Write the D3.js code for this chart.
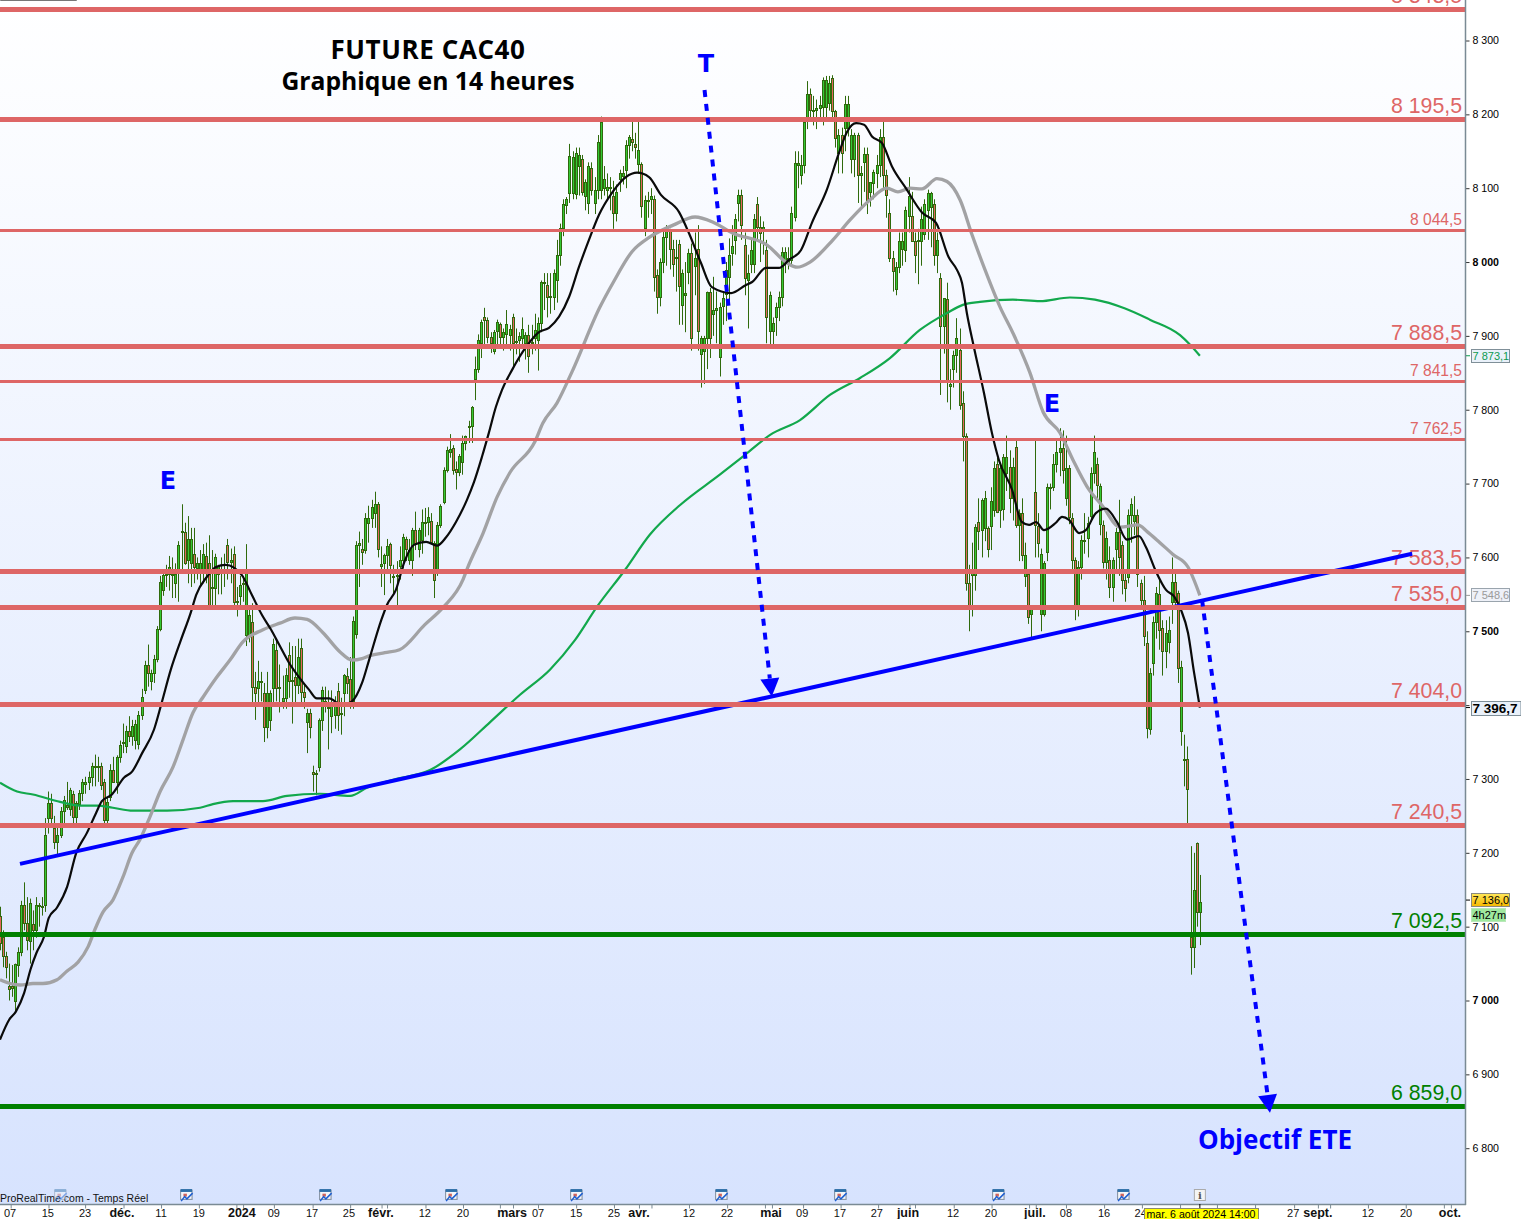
<!DOCTYPE html>
<html><head><meta charset="utf-8"><title>FUTURE CAC40</title>
<script src="https://cdnjs.cloudflare.com/ajax/libs/d3/7.8.5/d3.min.js"></script>
<style>html,body{margin:0;padding:0;background:#fff;overflow:hidden}svg{display:block}</style></head>
<body><div id="chart"></div>
<script>
// open, high, low, close
const candles1=[[7114,7127,7068,7078],[7086,7095,7045,7060],[7060,7066,7030,7046],[7019,7050,7000,7016],[7020,7048,7005,7017],[7000,7050,6985,7050],[7048,7072,7032,7066],[7066,7135,7060,7129],[7129,7160,7095,7105],[7105,7140,7068,7082],[7080,7138,7050,7132],[7103,7122,7068,7095],[7095,7140,7085,7129],[7128,7132,7100,7129],[7128,7140,7115,7128],[7129,7247,7120,7224],[7247,7283,7226,7267],[7267,7280,7240,7247],[7233,7250,7205,7215],[7215,7240,7198,7224],[7224,7262,7220,7256],[7256,7277,7240,7272],[7262,7296,7258,7265],[7260,7288,7250,7285],[7280,7284,7240,7249],[7249,7270,7240,7267],[7266,7285,7258,7281],[7281,7300,7270,7296],[7293,7303,7280,7296],[7296,7310,7285,7303],[7303,7322,7290,7317],[7317,7333,7290,7318],[7318,7330,7296,7317],[7317,7322,7285,7292],[7296,7300,7240,7244],[7244,7275,7240,7269],[7276,7320,7270,7312],[7312,7330,7295,7296],[7296,7332,7280,7330],[7330,7352,7322,7346],[7350,7375,7335,7350]];
const candles2=[[7345,7372,7335,7365],[7365,7385,7350,7358],[7358,7380,7345,7372],[7353,7380,7340,7375],[7348,7392,7340,7387],[7387,7422,7380,7411],[7420,7460,7415,7454],[7454,7482,7425,7444],[7432,7448,7420,7443],[7443,7468,7430,7462],[7463,7507,7458,7503],[7503,7575,7500,7567],[7556,7582,7548,7576],[7576,7590,7560,7577],[7578,7602,7555,7587],[7578,7600,7545,7578],[7565,7592,7545,7578],[7580,7622,7540,7617],[7634,7672,7580,7636],[7635,7647,7590,7592],[7596,7656,7565,7625],[7593,7640,7560,7625],[7604,7640,7565,7587],[7586,7600,7570,7592],[7585,7610,7560,7592],[7585,7618,7565,7605],[7602,7620,7565,7583],[7593,7630,7530,7535],[7558,7610,7530,7560],[7558,7605,7535,7600],[7578,7590,7550,7588],[7580,7600,7550,7584],[7580,7605,7560,7584],[7617,7625,7570,7594],[7594,7612,7565,7596],[7605,7615,7530,7540],[7540,7560,7520,7541],[7548,7575,7530,7562],[7565,7575,7540,7564],[7495,7618,7480,7583]];
const candles3=[[7495,7535,7485,7522],[7513,7538,7403,7425],[7425,7445,7380,7416],[7423,7460,7400,7432],[7432,7445,7405,7433],[7416,7430,7350,7370],[7370,7445,7355,7416],[7380,7420,7365,7416],[7423,7490,7400,7483],[7475,7490,7405,7423],[7423,7455,7390,7424],[7405,7440,7395,7410],[7409,7450,7395,7441],[7468,7485,7410,7433],[7433,7480,7375,7434],[7438,7480,7400,7427],[7427,7490,7415,7465],[7478,7490,7400,7418],[7418,7430,7395,7411],[7377,7395,7335,7390],[7390,7395,7355,7371],[7310,7318,7283,7307],[7308,7312,7278,7307],[7316,7382,7310,7380],[7380,7425,7365,7420],[7402,7425,7390,7405],[7398,7420,7340,7398],[7385,7420,7362,7402],[7386,7412,7368,7402],[7419,7430,7365,7387],[7389,7410,7360,7390],[7417,7442,7385,7441],[7440,7450,7415,7430],[7435,7465,7395,7402],[7405,7520,7395,7514],[7496,7622,7490,7617],[7617,7635,7560,7620],[7612,7625,7590,7608],[7610,7660,7605,7654],[7646,7670,7620,7654]];
const candles4=[[7654,7678,7640,7668],[7660,7689,7640,7673],[7673,7675,7600,7612],[7588,7615,7560,7591],[7592,7605,7549,7603],[7603,7625,7580,7616],[7618,7620,7565,7590],[7575,7590,7550,7574],[7575,7595,7535,7576],[7588,7615,7570,7596],[7597,7632,7585,7628],[7625,7628,7595,7612],[7597,7625,7590,7610],[7597,7640,7575,7637],[7637,7662,7610,7619],[7612,7640,7600,7637],[7624,7665,7605,7648],[7647,7667,7628,7648],[7648,7668,7630,7655],[7650,7660,7618,7621],[7620,7622,7545,7570],[7585,7648,7575,7644],[7644,7672,7640,7670],[7675,7722,7672,7719],[7719,7750,7715,7745],[7743,7767,7735,7747],[7748,7752,7712,7718],[7720,7730,7692,7716],[7716,7740,7710,7737],[7729,7765,7712,7755],[7755,7765,7745,7764],[7776,7785,7755,7778],[7778,7805,7755,7804],[7842,7872,7813,7855],[7855,7902,7850,7894],[7890,7922,7870,7919],[7926,7938,7885,7922],[7922,7925,7890,7898],[7898,7905,7877,7890],[7879,7908,7875,7905],[7906,7922,7885,7919],[7916,7918,7885,7898],[7898,7910,7880,7905],[7902,7935,7885,7916],[7901,7915,7880,7910],[7925,7930,7855,7890],[7892,7910,7875,7893],[7895,7905,7865,7900],[7897,7925,7885,7910],[7890,7905,7868,7901],[7901,7915,7850,7873],[7890,7915,7875,7892],[7897,7930,7880,7908],[7894,7925,7853,7917],[7917,7975,7905,7973]];
const candles5=[[7972,7985,7935,7973],[7969,7985,7925,7952],[7952,7985,7930,7954],[7953,7990,7935,7985],[7976,8030,7945,8010],[8010,8052,7995,8046],[8046,8085,8035,8079],[8077,8088,8065,8086],[8093,8160,8080,8143],[8093,8150,8085,8142],[8092,8155,8085,8147],[8130,8155,8090,8145],[8139,8145,8090,8095],[8089,8112,8070,8108],[8080,8135,8065,8130],[8128,8135,8090,8098],[8080,8115,8065,8098],[8098,8172,8085,8162],[8098,8197,8085,8190],[8100,8130,8090,8113],[8098,8120,8085,8102],[8100,8115,8070,8101],[8089,8110,8045,8066],[8066,8105,8055,8095],[8113,8125,8095,8120],[8117,8130,8105,8120],[8125,8165,8100,8158],[8158,8172,8140,8169],[8166,8190,8150,8162],[8160,8175,8140,8156],[8133,8190,8120,8152],[8133,8135,8060,8076],[8046,8090,8035,8084],[8082,8095,8060,8084],[8085,8100,8065,8090],[8086,8090,7960,7980],[7982,7990,7930,7952],[7952,8005,7940,8000],[8000,8045,7985,8034],[8034,8050,7995,8043],[8043,8045,7990,8018],[8018,8030,7980,7998],[8005,8030,7960,8007],[8025,8030,7915,7967],[7942,7990,7915,7985],[7955,8000,7905,7958],[7987,8018,7970,8012],[8012,8025,7880,7897],[7995,8040,7955,8005],[8018,8050,7880,7906],[7876,7900,7830,7897],[7879,7900,7835,7897],[7897,7960,7855,7959],[7959,7965,7870,7897],[7930,7980,7900,7935],[7935,7960,7890,7938],[7872,7945,7845,7939]];
const candles6=[[7940,7960,7915,7951],[7957,8000,7920,7989],[7980,8032,7945,8010],[8012,8050,7995,8022],[8030,8065,8010,8058],[8080,8098,8055,8091],[8091,8098,8030,8050],[8023,8040,7955,7978],[7976,8010,7910,7985],[7998,8030,7985,8016],[7998,8065,7985,8058],[8079,8088,8030,8048],[8048,8062,8000,8040],[8045,8055,8010,8047],[8016,8030,7890,7926],[7906,7960,7888,7956],[7906,7925,7888,7917],[7926,7945,7900,7939],[7939,7960,7920,7953],[7953,8020,7940,8013],[8003,8020,7985,8013],[8000,8020,7990,8005],[8003,8075,7995,8067],[8061,8150,8055,8134],[8132,8150,8100,8134],[8118,8145,8105,8131],[8131,8195,8120,8190],[8197,8245,8180,8228],[8228,8235,8190,8206],[8204,8225,8185,8206],[8206,8220,8180,8208],[8208,8225,8192,8212],[8210,8250,8185,8246],[8210,8252,8195,8246],[8215,8252,8205,8242],[8249,8253,8195,8204],[8204,8206,8155,8168],[8148,8180,8120,8172],[8172,8182,8120,8148],[8181,8225,8150,8214],[8181,8225,8170,8214],[8139,8180,8120,8172],[8139,8175,8115,8172],[8172,8175,8080,8118],[8118,8130,8075,8120],[8135,8155,8095,8146],[8146,8155,8065,8084],[8095,8105,8075,8108],[8107,8125,8085,8122],[8120,8145,8100,8131],[8131,8180,8115,8169],[8169,8190,8100,8118],[8118,8125,8060,8091]];
const candles7=[[8067,8085,8000,8006],[8006,8015,7960,7988],[7963,8000,7955,7993],[7993,8040,7985,8028],[8018,8040,7995,8028],[8016,8075,8000,8070],[8063,8115,8040,8090],[8063,8095,8028,8028],[8028,8040,7985,8010],[8028,8045,7970,8030],[8028,8075,7995,8058],[8038,8085,8030,8078],[8070,8098,8030,8093],[8075,8095,8020,8093],[8079,8085,7995,8010],[8010,8040,7985,8030],[7979,7985,7820,7913],[7913,7951,7876,7951],[7950,7972,7810,7840],[7832,7855,7800,7835],[7855,7880,7830,7874],[7874,7924,7850,7897],[7881,7910,7800,7807],[7809,7825,7730,7764],[7764,7768,7555,7566],[7566,7590,7500,7536],[7576,7620,7520,7580],[7576,7645,7555,7641],[7648,7680,7610,7636],[7637,7680,7600,7678],[7640,7690,7622,7680],[7640,7642,7600,7612],[7642,7695,7610,7676],[7664,7730,7655,7721],[7727,7735,7660,7662],[7664,7725,7640,7721],[7666,7740,7650,7736],[7714,7765,7690,7736],[7723,7745,7660,7680],[7680,7735,7650,7723],[7750,7758,7640,7644],[7644,7665,7595,7660],[7660,7680,7595,7603],[7575,7620,7560,7603],[7578,7580,7510,7520],[7523,7535,7490,7530],[7688,7758,7600,7644],[7642,7660,7600,7619],[7523,7612,7500,7605],[7523,7595,7520,7592],[7608,7700,7595,7695],[7694,7700,7665,7696],[7696,7740,7690,7727],[7727,7760,7715,7743],[7743,7775,7710,7748]];
const candles8=[[7748,7772,7700,7718],[7680,7765,7670,7721],[7721,7725,7645,7655],[7653,7660,7580,7596],[7596,7600,7515,7535],[7535,7595,7520,7587],[7587,7630,7570,7623],[7622,7660,7605,7624],[7626,7655,7600,7647],[7656,7722,7650,7714],[7714,7765,7700,7743],[7726,7735,7680,7698],[7645,7700,7630,7697],[7644,7650,7585,7594],[7594,7635,7570,7626],[7596,7615,7545,7560],[7560,7600,7540,7596],[7612,7640,7580,7635],[7635,7678,7575,7601],[7617,7622,7550,7569],[7570,7580,7540,7558],[7574,7665,7565,7657],[7657,7680,7620,7672],[7650,7683,7630,7658],[7657,7665,7560,7578],[7565,7570,7530,7542],[7542,7575,7480,7494],[7484,7500,7355,7369],[7367,7450,7360,7444],[7457,7520,7440,7512],[7512,7560,7490,7552],[7551,7570,7475,7502],[7504,7515,7440,7473],[7473,7515,7450,7497],[7485,7520,7470,7502],[7540,7600,7510,7567],[7567,7580,7530,7540],[7552,7555,7430,7450],[7365,7460,7345,7452],[7327,7360,7290,7327],[7327,7344,7240,7287],[7086,7209,7035,7072],[7072,7200,7044,7150],[7213,7214,7100,7120],[7120,7170,7075,7133]];
// where some candles sit on the bar axis
const anchorCandles=[0,15,51,116,154,194,268,310,385];
const anchorBars=[0.1,14.75,51.5,116.7,155.7,197,272.8,316.7,393.4];

// moving averages: bar number, value
const blackBars=[0,3,5.2,7.9,10,12,14.4,16,18.7,22,25,28.5,31.5,33.4,36.7,40.7,43.3,46.6,50.5,53,56,59.3,62.6,64.3,67.9,70.8,74,79.3,82.6,85.9,88.9,91.5,94.8,98,101.3,103.9,107.9,112.1,115.4,118.7,121,125,126.9,129.8,132.5,135.7,139.7,143.3,146.2,149.5,153.1,155.4,158,160.3,162.6,164.6,167.9,172.5,176.7,180,183.3,186.6,189.8,193.1,196.4,200.7,205.2,208.9,212.8,216.7,222.6,225.9,229.8,233.4,239.7,244.6,246.6,251.1,255.4,258.7,262.6,266.2,271.1,275.1,277.7,280.7,283.3,285.9,289.2,292.5,297,302.3,306.9,311.1,313.8,315.4,317,319.3,322.6,325.2,327.5,331.8,335,337.4,339.7,342.3,346.2,348.2,350.5,353.8,356,359.3,362.6,366.2,369.5,373.4,375.7,379,382.3,385,387.2,389.5,391.5,393.4];
const blackVals=[6947,6974,6985,7010,7042,7065,7086,7112,7126,7154,7200,7227,7254,7270,7279,7302,7310,7335,7367,7403,7448,7488,7526,7549,7574,7587,7590,7576,7549,7522,7502,7482,7457,7438,7421,7409,7409,7400,7405,7430,7461,7515,7536,7556,7593,7617,7621,7616,7627,7648,7678,7702,7736,7769,7804,7827,7854,7885,7905,7911,7926,7953,7993,8030,8064,8094,8115,8121,8115,8091,8068,8039,7999,7966,7958,7969,7973,7992,7992,8003,8016,8053,8098,8148,8176,8188,8186,8170,8161,8129,8100,8067,8053,8006,7989,7972,7931,7885,7823,7769,7732,7692,7648,7644,7648,7637,7647,7655,7651,7633,7637,7660,7666,7648,7624,7629,7614,7581,7556,7547,7529,7498,7444,7396.7];
const grayBars=[0,3.3,6.6,10.8,14.1,18.7,22,25.6,28.9,31.1,33.8,37,40.3,43.3,45.9,49.2,52.5,56.7,60,63.3,66.6,71.1,75.4,79.7,86.2,91.8,96.7,100.7,105.9,111.5,115.4,118.7,121.3,126.2,131,139.3,145.2,151.8,153.4,158.4,163,167.2,175.4,178,182.6,187.5,196.7,201,207.2,213.1,220.7,227.9,233.8,240.3,251.5,258,261.3,265.6,273.1,278.7,285.2,290.8,294.4,298.4,302.3,307.2,310.5,314.8,318.7,323,327.9,332.1,337.7,342,347.5,351.8,356.4,361.6,367.2,373.1,376.1,380.3,384.6,389.5,393.4];
const grayVals=[7028,7023,7021,7023,7023,7028,7040,7052,7073,7096,7120,7136,7167,7200,7218,7249,7283,7316,7353,7390,7411,7438,7461,7486,7502,7511,7518,7516,7498,7472,7461,7463,7467,7471,7475,7509,7532,7570,7587,7633,7682,7715,7757,7782,7809,7851,7939,7972,8014,8034,8050,8061,8054,8039,8023,7999,7993,8000,8030,8057,8084,8100,8095,8100,8099,8113,8109,8084,8037,7989,7939,7904,7850,7797,7769,7732,7696,7669,7641,7644,7635,7620,7604,7587,7548.6];
const greenBars=[0,5.6,10.8,19.7,26.2,31.8,37,43.6,54.8,65.6,69.8,76.4,86.2,94.1,104.9,114.8,120.3,128.9,141,150.8,160.7,170.5,180.3,188.5,195.7,204.9,213.1,223,236,244.3,252.5,262.3,272.1,282,291.8,301.6,310.5,315.7,321.3,332.1,341,350.8,359,368.9,377,386.9,390.2,393.4];
const greenVals=[7295,7283,7279,7269,7264,7264,7261,7257,7257,7261,7266,7270,7270,7277,7280,7277,7288,7299,7312,7340,7377,7414,7448,7488,7533,7583,7631,7671,7712,7739,7766,7786,7820,7843,7870,7908,7931,7942,7946,7949,7947,7952,7949,7937,7922,7901,7888,7873.1];

// horizontal levels
const levelValues=[8343,8193.5,8043,7886,7839,7760,7581,7533,7402,7238,7090,6856.5];
const levelLabels=["8 343,5","8 195,5","8 044,5","7 888,5","7 841,5","7 762,5","7 583,5","7 535,0","7 404,0","7 240,5","7 092,5","6 859,0"];
const levelKinds=["major","major","minor","major","minor","minor","major","major","major","major","target","target"];

// drawn trend lines
const trendBars=[6.56,463];const trendVals=[7185,7605];
const dashT_Bars=[231,252.4];const dashT_Vals=[8233,7436];
const dashE_Bars=[394.1,415.6];const dashE_Vals=[7543,6872];

// axis
const priceTicks=[8300,8200,8100,8000,7900,7800,7700,7600,7500,7400,7300,7200,7100,7000,6900,6800];
const priceTickBold=[8000,7500,7000];
const timeTickBars=[3.5,15.9,27.9,40.5,52.8,65.2,77.5,79.7,89.8,102.5,114.8,125.1,126.9,139.5,151.8,163.9,168.2,176.4,188.9,201.3,209.5,213.6,225.9,238.4,250.8,253.1,263.3,275.6,287.9,298.2,300,312.7,325.1,337.4,339.6,349.5,362,374.4,386.9,399,411.5,424.3,432.1,436.1,448.5,460.9,473.4,475.7];
const dayLabels=["07","15","23","11","19","09","17","25","12","20","07","15","25","12","22","09","17","27","12","20","08","16","24","27","12","20"];
const dayBars=[3.3,15.7,27.9,52.8,65.2,89.8,102.3,114.4,139.3,151.8,176.4,188.9,201.3,225.9,238.4,263,275.4,287.5,312.5,324.9,349.5,362,374,424,448.5,461];
const monthLabels=["déc.","2024","févr.","mars","avr.","mai","juin","juil.","sept.","oct."];
const monthBars=[40,79.3,124.9,167.9,209.5,252.8,297.7,339.3,432.1,475.4];
const calendarBars=[19.7,61,106.6,147.9,188.9,236.4,275.4,327.2,368.2];

const W=1521,H=1219,plotR=1465,plotB=1204,font="'Liberation Sans',Arial,sans-serif",headFont="'Open Sans',sans-serif",letterFont="'DejaVu Sans',Verdana,sans-serif";
const RED="#de6666",DGREEN="#008000",BLUE="#0000ff";
const x=d3.scaleLinear().domain([0,400]).range([0,1220]);
const y=d3.scaleLinear().domain([8300,6800]).range([40.5,1148.2]);
const candles=[...candles1,...candles2,...candles3,...candles4,...candles5,...candles6,...candles7,...candles8];
const xc=d3.scaleLinear().domain(anchorCandles).range(anchorBars.map(b=>x(b)));

const svg=d3.select("#chart").append("svg").attr("width",W).attr("height",H).attr("viewBox",[0,0,W,H]);
const defs=svg.append("defs");
const g=defs.append("linearGradient").attr("id","bg").attr("x1",0).attr("x2",0).attr("y1",0).attr("y2",1);
g.append("stop").attr("offset",0).attr("stop-color","#ffffff");
g.append("stop").attr("offset",1).attr("stop-color","#d7e3fe");
const gold=defs.append("linearGradient").attr("id","gold").attr("x1",0).attr("x2",0).attr("y1",0).attr("y2",1);
gold.append("stop").attr("offset",0).attr("stop-color","#ffe75a");
gold.append("stop").attr("offset",1).attr("stop-color","#f5b800");
defs.append("clipPath").attr("id","plot").append("rect").attr("width",plotR).attr("height",plotB);

svg.append("rect").attr("width",W).attr("height",H).attr("fill","#fff");
svg.append("rect").attr("width",plotR).attr("height",plotB).attr("fill","url(#bg)");
svg.append("path").attr("d","M0.5,0V0.5H76.5V0").attr("fill","none").attr("stroke","#777");

const plot=svg.append("g").attr("clip-path","url(#plot)");

// candles
const cg=plot.append("g");
const cx=i=>Math.round(xc(i))+0.5;
cg.selectAll("line").data(candles).join("line")
  .attr("x1",(d,i)=>cx(i)).attr("x2",(d,i)=>cx(i))
  .attr("y1",d=>y(Math.max(...d))).attr("y2",d=>y(Math.min(...d)))
  .attr("stroke","#2f6a0c").attr("stroke-width",1);
cg.selectAll("rect").data(candles).join("rect")
  .attr("x",(d,i)=>cx(i)-1).attr("width",2)
  .attr("y",d=>Math.round(y(Math.max(d[0],d[3])))+0.5)
  .attr("height",d=>Math.max(1,Math.round(y(Math.min(d[0],d[3])))-Math.round(y(Math.max(d[0],d[3])))))
  .attr("fill",d=>d[3]>=d[0]?"#34c934":"#e2665e")
  .attr("stroke","#2f6a0c").attr("stroke-width",1);

// moving averages
const maLine=d3.line().x(d=>x(d[0])).y(d=>y(d[1])).curve(d3.curveMonotoneX);
const pairs=(a,b)=>a.map((v,i)=>[v,b[i]]);
plot.append("path").attr("d",maLine(pairs(greenBars,greenVals))).attr("fill","none").attr("stroke","#12a84c").attr("stroke-width",2.2);
plot.append("path").attr("d",maLine(pairs(grayBars,grayVals))).attr("fill","none").attr("stroke","#a2a2a4").attr("stroke-width",3.3);
plot.append("path").attr("d",maLine(pairs(blackBars,blackVals))).attr("fill","none").attr("stroke","#0a0a0a").attr("stroke-width",2.2);

// level labels
plot.append("g").selectAll("text").data(levelLabels).join("text")
  .attr("x",1462).attr("y",(d,i)=>y(levelValues[i])-(levelKinds[i]==="minor"?5:6))
  .attr("text-anchor","end").attr("font-family",font)
  .attr("font-size",(d,i)=>levelKinds[i]==="minor"?15.6:21.3)
  .attr("fill",(d,i)=>levelKinds[i]==="target"?DGREEN:RED).text(d=>d);

// solid trend
const straight=d3.line().x(d=>x(d[0])).y(d=>y(d[1]));
plot.append("path").attr("d",straight(pairs(trendBars,trendVals))).attr("stroke",BLUE).attr("stroke-width",4).attr("fill","none");

// levels
plot.append("g").selectAll("line").data(levelValues).join("line")
  .attr("x1",0).attr("x2",plotR).attr("y1",d=>Math.round(y(d))+0.5).attr("y2",d=>Math.round(y(d))+0.5)
  .attr("stroke",(d,i)=>levelKinds[i]==="target"?DGREEN:RED)
  .attr("stroke-width",(d,i)=>levelKinds[i]==="minor"?3:5);

// dashed arrows
function arrow(bars,vals){
  const p=pairs(bars,vals);
  plot.append("path").attr("d",straight(p)).attr("stroke",BLUE).attr("stroke-width",4).attr("stroke-dasharray","7 7").attr("fill","none");
  const [a,b]=p, ax=x(a[0]),ay=y(a[1]),bx=x(b[0]),by=y(b[1]);
  const t=Math.atan2(by-ay,bx-ax),len=18,hw=9.5;
  const tip=[bx+Math.cos(t)*len,by+Math.sin(t)*len];
  const nx=-Math.sin(t),ny=Math.cos(t);
  plot.append("polygon").attr("fill",BLUE)
    .attr("points",[[bx+nx*hw,by+ny*hw],[bx-nx*hw,by-ny*hw],tip].map(q=>q.join(",")).join(" "));
}
arrow(dashT_Bars,dashT_Vals);
arrow(dashE_Bars,dashE_Vals);

// annotations
const txt=(t,px,py,size,col,anchor,fam,w)=>svg.append("text").attr("x",px).attr("y",py).attr("font-size",size).attr("fill",col)
  .attr("text-anchor",anchor||"middle").attr("font-family",fam||headFont).attr("font-weight",w||700).text(t);
txt("FUTURE CAC40",428,59,26,"#000").attr("letter-spacing",0.6);
txt("Graphique en 14 heures",428,90,24.7,"#000");
txt("T",706,72,24,BLUE,"middle",letterFont);
txt("E",168,489,24,BLUE,"middle",letterFont);
txt("E",1052,412,24,BLUE,"middle",letterFont);
txt("Objectif ETE",1275,1149,26,BLUE);
txt("ProRealTime.com - Temps Réel",0,1202,10.5,"#111","start",font,400);

// calendar icons
const ig=svg.append("g").selectAll("g").data(calendarBars).join("g")
  .attr("transform",d=>`translate(${Math.round(x(d))-6},1188.5) scale(1.15)`).attr("opacity",(d,i)=>i===0?0.45:1);
ig.append("rect").attr("x",0.5).attr("y",1.5).attr("width",10).attr("height",8).attr("fill","#f4f6fa").attr("stroke","#8a97a8");
ig.append("rect").attr("x",0.5).attr("y",0.5).attr("width",10).attr("height",2.5).attr("fill","#2d6fa8");
ig.append("rect").attr("x",3).attr("y",4.5).attr("width",3).attr("height",2.5).attr("fill","#d0655c");
ig.append("path").attr("d","M1,11L4,7L6,9L11,4").attr("fill","none").attr("stroke","#1f5fd0").attr("stroke-width",1.3);

// info icon
const info=svg.append("g").attr("transform",`translate(${x(393.4)-6},1189)`);
info.append("rect").attr("x",0.5).attr("y",0.5).attr("width",11).attr("height",11).attr("fill","#f4f4f4").attr("stroke","#aaa");
info.append("text").attr("x",6).attr("y",9.5).attr("text-anchor","middle").attr("font-size",10).attr("font-weight",700).attr("font-family","'DejaVu Serif',serif").attr("fill","#555").text("i");

// right axis
const AX="#7a8a94";
const ya=svg.append("g").attr("transform",`translate(${plotR+0.5},0)`)
  .call(d3.axisRight(y).tickValues(priceTicks).tickSize(4).tickPadding(3).tickFormat(d=>d===7400?"":d3.format("d")(d).replace(/^(\d)(\d{3})$/,"$1 $2")));
ya.select(".domain").remove();
ya.selectAll(".tick line").attr("stroke","#333");
ya.selectAll(".tick text").attr("font-family",font).attr("font-size",10.6).attr("fill","#000")
  .attr("font-weight",d=>priceTickBold.includes(d)?700:400);
svg.append("line").attr("x1",plotR+0.5).attr("x2",plotR+0.5).attr("y1",0).attr("y2",plotB+1).attr("stroke",AX).attr("stroke-width",1.5);

// bottom axis
const xa=svg.append("g").attr("transform",`translate(0,${plotB+0.5})`)
  .call(d3.axisBottom(x).tickValues(timeTickBars).tickSize(4).tickFormat(""));
xa.select(".domain").remove();
xa.selectAll(".tick line").attr("stroke",AX);
svg.append("line").attr("x1",0).attr("x2",plotR+1).attr("y1",plotB+0.5).attr("y2",plotB+0.5).attr("stroke",AX).attr("stroke-width",1.5);
svg.append("line").attr("x1",x(393.4)).attr("x2",x(393.4)).attr("y1",plotB).attr("y2",plotB+5).attr("stroke","#000");
svg.append("g").selectAll("text").data(dayLabels).join("text")
  .attr("x",(d,i)=>x(dayBars[i])).attr("y",1217).attr("text-anchor","middle").attr("font-family",font).attr("font-size",11).attr("fill","#111").text(d=>d);
svg.append("g").selectAll("text").data(monthLabels).join("text")
  .attr("x",(d,i)=>x(monthBars[i])).attr("y",1217).attr("text-anchor","middle").attr("font-family",font).attr("font-size",12.5).attr("font-weight",700).attr("fill","#111").text(d=>d);

// date cursor
svg.append("rect").attr("x",1144.5).attr("y",1208.5).attr("width",114).attr("height",12).attr("fill","#ffff00").attr("stroke","#8a8a70");
svg.append("text").attr("x",1201).attr("y",1218).attr("text-anchor","middle").attr("font-family",font).attr("font-size",10.6).attr("fill","#000").text("mar. 6 août 2024 14:00");

// value tags
function tag(v,label,w,fill,col,bold,stroke){
  const yy=y(v);
  svg.append("line").attr("x1",plotR+1).attr("x2",plotR+5).attr("y1",yy).attr("y2",yy).attr("stroke",col);
  svg.append("rect").attr("x",1471.5).attr("y",Math.round(yy)-6.5).attr("width",w).attr("height",bold?14:13).attr("fill",fill).attr("stroke",stroke);
  svg.append("text").attr("x",1472.5).attr("y",Math.round(yy)+(bold?5:4)).attr("font-family",font).attr("font-size",bold?13.5:11).attr("font-weight",bold?700:400).attr("fill",col).text(label);
}
tag(7873.1,"7 873,1",38,"#eaf1fa","#0d9a50",false,"#7f8f98");
tag(7548.6,"7 548,6",38,"#eef1f8","#9a9a9a",false,"#9aa4ad");
tag(7396.7,"7 396,7",49.5,"#eaf1fa","#000",true,"#7f8f98");
tag(7136,"7 136,0",38,"url(#gold)","#000",false,"#8a8a80");
svg.append("rect").attr("x",1471.5).attr("y",908.5).attr("width",34).attr("height",13).attr("fill","#9fe89f").attr("stroke","#b8e8b8");
svg.append("text").attr("x",1472.5).attr("y",919).attr("font-family",font).attr("font-size",11).attr("fill","#000").text("4h27m");
</script></body></html>
